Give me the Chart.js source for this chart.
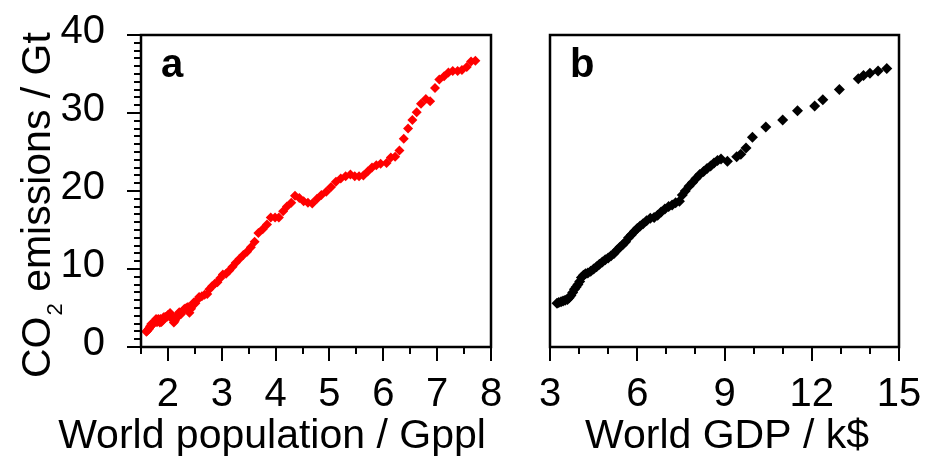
<!DOCTYPE html>
<html>
<head>
<meta charset="utf-8">
<title>CO2 emissions vs population and GDP</title>
<script src="https://cdn.jsdelivr.net/npm/chart.js@4.4.0/dist/chart.umd.min.js"></script>
<style>
  html, body { margin: 0; padding: 0; background: #fff; }
  #wrap { position: relative; width: 925px; height: 459px; }
  canvas { position: absolute; top: 0; }
  #popChart { left: 0; }
  #gdpChart { left: 520px; }
</style>
</head>
<body>
<div id="wrap">
  <canvas id="popChart" width="520" height="459"></canvas>
  <canvas id="gdpChart" width="405" height="459"></canvas>
</div>
<script>
// world population (Gppl), one value per year 1900-2019
const population = [
  1.60, 1.61, 1.62, 1.64, 1.65, 1.66, 1.67, 1.69, 1.70, 1.72,
  1.73, 1.75, 1.76, 1.78, 1.79, 1.80, 1.81, 1.82, 1.83, 1.85,
  1.86, 1.88, 1.90, 1.92, 1.94, 1.96, 1.98, 2.00, 2.02, 2.04,
  2.07, 2.09, 2.11, 2.13, 2.15, 2.17, 2.19, 2.21, 2.24, 2.26,
  2.30, 2.32, 2.34, 2.36, 2.38, 2.40, 2.43, 2.46, 2.48, 2.51,
  2.54, 2.58, 2.63, 2.68, 2.73, 2.77, 2.82, 2.87, 2.92, 2.97,
  3.02, 3.08, 3.14, 3.20, 3.26, 3.33, 3.40, 3.47, 3.54, 3.61,
  3.68, 3.76, 3.84, 3.91, 3.99, 4.06, 4.14, 4.21, 4.29, 4.36,
  4.44, 4.52, 4.60, 4.68, 4.77, 4.85, 4.94, 5.03, 5.12, 5.21,
  5.30, 5.39, 5.47, 5.55, 5.63, 5.71, 5.79, 5.87, 5.95, 6.06,
  6.14, 6.22, 6.30, 6.38, 6.46, 6.54, 6.62, 6.70, 6.79, 6.87,
  6.96, 7.04, 7.13, 7.21, 7.29, 7.38, 7.46, 7.55, 7.63, 7.71
];
// CO2 emissions (Gt) for the same years
const co2ByPop = [
  1.95, 2.05, 2.10, 2.30, 2.35, 2.50, 2.65, 2.95, 2.80, 2.95,
  3.10, 3.15, 3.30, 3.60, 3.25, 3.20, 3.45, 3.60, 3.50, 3.15,
  3.60, 3.20, 3.40, 3.80, 3.80, 3.85, 3.85, 4.10, 4.10, 4.35,
  3.95, 3.50, 3.15, 3.35, 3.65, 3.80, 4.20, 4.45, 4.20, 4.50,
  4.85, 4.95, 4.95, 5.10, 5.10, 4.40, 4.90, 5.40, 5.70, 5.60,
  6.00, 6.40, 6.50, 6.70, 6.80, 7.40, 7.80, 8.10, 8.30, 8.80,
  9.30, 9.40, 9.80, 10.30, 10.80, 11.30, 11.80, 12.20, 12.80, 13.50,
  14.60, 15.10, 15.70, 16.60, 16.60, 16.60, 17.40, 18.00, 18.50, 19.40,
  19.10, 18.70, 18.50, 18.40, 19.00, 19.50, 19.90, 20.50, 21.20, 21.60,
  21.90, 22.10, 21.90, 21.90, 22.00, 22.50, 23.00, 23.30, 23.50, 23.60,
  24.30, 24.40, 25.20, 26.70, 28.00, 29.10, 30.10, 31.20, 31.80, 31.50,
  33.20, 34.30, 34.70, 35.20, 35.40, 35.40, 35.50, 35.90, 36.60, 36.70
];

// world GDP (k$) and matching CO2 emissions (Gt)
const gdp = [
  3.24, 3.30, 3.38, 3.45, 3.52, 3.60, 3.66, 3.72, 3.78, 3.84,
  3.90, 3.96, 4.02, 4.08, 4.15, 4.22, 4.30, 4.40, 4.50, 4.60,
  4.70, 4.80, 4.90, 5.00, 5.10, 5.20, 5.30, 5.40, 5.50, 5.60,
  5.70, 5.80, 5.90, 6.00, 6.10, 6.20, 6.32, 6.45, 6.58, 6.70,
  6.82, 6.95, 7.08, 7.20, 7.32, 7.45, 7.55, 7.65, 7.78, 7.90,
  8.02, 8.15, 8.28, 8.40, 8.52, 8.64, 8.76, 8.88, 9.10, 9.42,
  9.56, 9.74, 9.96, 10.42, 11.00, 11.51, 12.10, 12.38, 12.95, 13.60,
  13.78, 14.00, 14.28, 14.58
];
const co2ByGdp = [
  5.6, 5.7, 5.8, 5.9, 6.0, 6.1, 6.3, 6.6, 7.0, 7.4,
  7.7, 8.0, 8.4, 8.9, 9.2, 9.4, 9.5, 9.7, 10.0, 10.3,
  10.6, 10.9, 11.2, 11.4, 11.7, 12.0, 12.4, 12.8, 13.1, 13.5,
  14.0, 14.4, 14.8, 15.2, 15.5, 15.8, 16.2, 16.5, 16.6, 16.9,
  17.3, 17.7, 18.0, 18.2, 18.5, 18.7, 19.5, 20.0, 20.6, 21.1,
  21.6, 22.1, 22.5, 22.9, 23.2, 23.6, 23.9, 24.1, 23.8, 24.4,
  24.7, 25.5, 26.9, 28.2, 29.1, 30.3, 30.9, 31.7, 33.0, 34.4,
  34.8, 35.1, 35.4, 35.7
];

const popTicks = [2, 3, 4, 5, 6, 7, 8];
const gdpTicks = [3, 6, 9, 12, 15];
const co2Ticks = [0, 10, 20, 30, 40];

const FONT = "'Liberation Sans', Arial, Helvetica, sans-serif";
Chart.defaults.font.family = FONT;
Chart.defaults.color = '#000';

function toPoints(xs, ys) {
  return xs.map((x, i) => ({x: x, y: ys[i]}));
}

// keep the plot box where the layout padding puts it
function noEdgePadding(s) {
  s.paddingTop = 0; s.paddingBottom = 0;
  s.paddingLeft = 0; s.paddingRight = 0;
}

// frame, outward tick marks (major + minor), panel letter and axis titles
const panelDecor = {
  id: 'panelDecor',
  afterDraw(chart, args, o) {
    const ctx = chart.ctx;
    const a = chart.chartArea;
    const xs = chart.scales.x, ys = chart.scales.y;
    const isMajor = (list, v) => list.some(m => Math.abs(m - v) < 1e-6);
    ctx.save();
    ctx.strokeStyle = '#000';
    ctx.fillStyle = '#000';
    ctx.lineWidth = 2;

    for (let v = xs.min; v <= xs.max + 1e-6; v += o.xMinor) {
      const px = Math.round(xs.getPixelForValue(v));
      const len = isMajor(o.xMajor, v) ? 14 : 7;
      ctx.beginPath();
      ctx.moveTo(px, a.bottom);
      ctx.lineTo(px, a.bottom + len);
      ctx.stroke();
    }
    if (o.yMinor) {
      for (let v = ys.min; v <= ys.max + 1e-6; v += o.yMinor) {
        const py = Math.round(ys.getPixelForValue(v));
        const len = isMajor(o.yMajor, v) ? 14 : 7;
        ctx.beginPath();
        ctx.moveTo(a.left, py);
        ctx.lineTo(a.left - len, py);
        ctx.stroke();
      }
    }

    ctx.lineWidth = 2.5;
    ctx.strokeRect(a.left, a.top, a.right - a.left, a.bottom - a.top);

    ctx.font = 'bold 40px ' + FONT;
    ctx.textAlign = 'left';
    ctx.textBaseline = 'alphabetic';
    ctx.fillText(o.letter, a.left + 20, a.top + 42);

    ctx.font = '41px ' + FONT;
    ctx.textAlign = 'center';
    ctx.fillText(o.xTitle, o.xTitleX, 448);

    if (o.yTitle) {
      // rotated title with subscript 2 in CO2
      ctx.translate(50, 378);
      ctx.rotate(-Math.PI / 2);
      ctx.textAlign = 'left';
      ctx.font = '41px ' + FONT;
      ctx.fillText('CO', 0, 0);
      let w = ctx.measureText('CO').width;
      ctx.font = '22px ' + FONT;
      ctx.fillText('2', w + 1, 12);
      w += ctx.measureText('2').width + 1;
      ctx.font = '41px ' + FONT;
      ctx.fillText(' emissions / Gt', w, 0);
    }
    ctx.restore();
  }
};

function axisX(min, max, ticks) {
  return {
    type: 'linear', min: min, max: max,
    afterBuildTicks: s => { s.ticks = ticks.map(v => ({value: v})); },
    afterFit: s => { s.height = 112; noEdgePadding(s); },
    grid: {display: false}, border: {display: false},
    ticks: {font: {size: 40}, padding: 16, maxRotation: 0, autoSkip: false}
  };
}

new Chart(document.getElementById('popChart'), {
  type: 'scatter',
  data: {
    datasets: [{
      data: toPoints(population, co2ByPop),
      pointStyle: 'rectRot', pointRadius: 5, pointBorderWidth: 0,
      backgroundColor: '#ff0000', borderColor: '#ff0000'
    }]
  },
  options: {
    responsive: false, animation: false,
    layout: {padding: {left: 0, top: 35, right: 29, bottom: 0}},
    plugins: {
      legend: {display: false}, tooltip: {enabled: false},
      panelDecor: {letter: 'a', xTitle: 'World population / Gppl', xTitleX: 272,
                   xMinor: 0.5, xMajor: popTicks, yMinor: 1, yMajor: co2Ticks, yTitle: true}
    },
    scales: {
      x: axisX(1.5, 8, popTicks),
      y: {
        min: 0, max: 40,
        afterBuildTicks: s => { s.ticks = co2Ticks.map(v => ({value: v})); },
        afterFit: s => { s.width = 141; noEdgePadding(s); },
        grid: {display: false}, border: {display: false},
        ticks: {font: {size: 40}, padding: 28, labelOffset: -3}
      }
    }
  },
  plugins: [panelDecor]
});

new Chart(document.getElementById('gdpChart'), {
  type: 'scatter',
  data: {
    datasets: [{
      data: toPoints(gdp, co2ByGdp),
      pointStyle: 'rectRot', pointRadius: 5.5, pointBorderWidth: 0,
      backgroundColor: '#000', borderColor: '#000'
    }]
  },
  options: {
    responsive: false, animation: false,
    layout: {padding: {left: 30, top: 35, right: 26, bottom: 0}},
    plugins: {
      legend: {display: false}, tooltip: {enabled: false},
      panelDecor: {letter: 'b', xTitle: 'World GDP / k$', xTitleX: 207,
                   xMinor: 1, xMajor: gdpTicks}
    },
    scales: {
      x: axisX(3, 15, gdpTicks),
      y: {display: false, min: 0, max: 40}
    }
  },
  plugins: [panelDecor]
});
</script>
</body>
</html>
